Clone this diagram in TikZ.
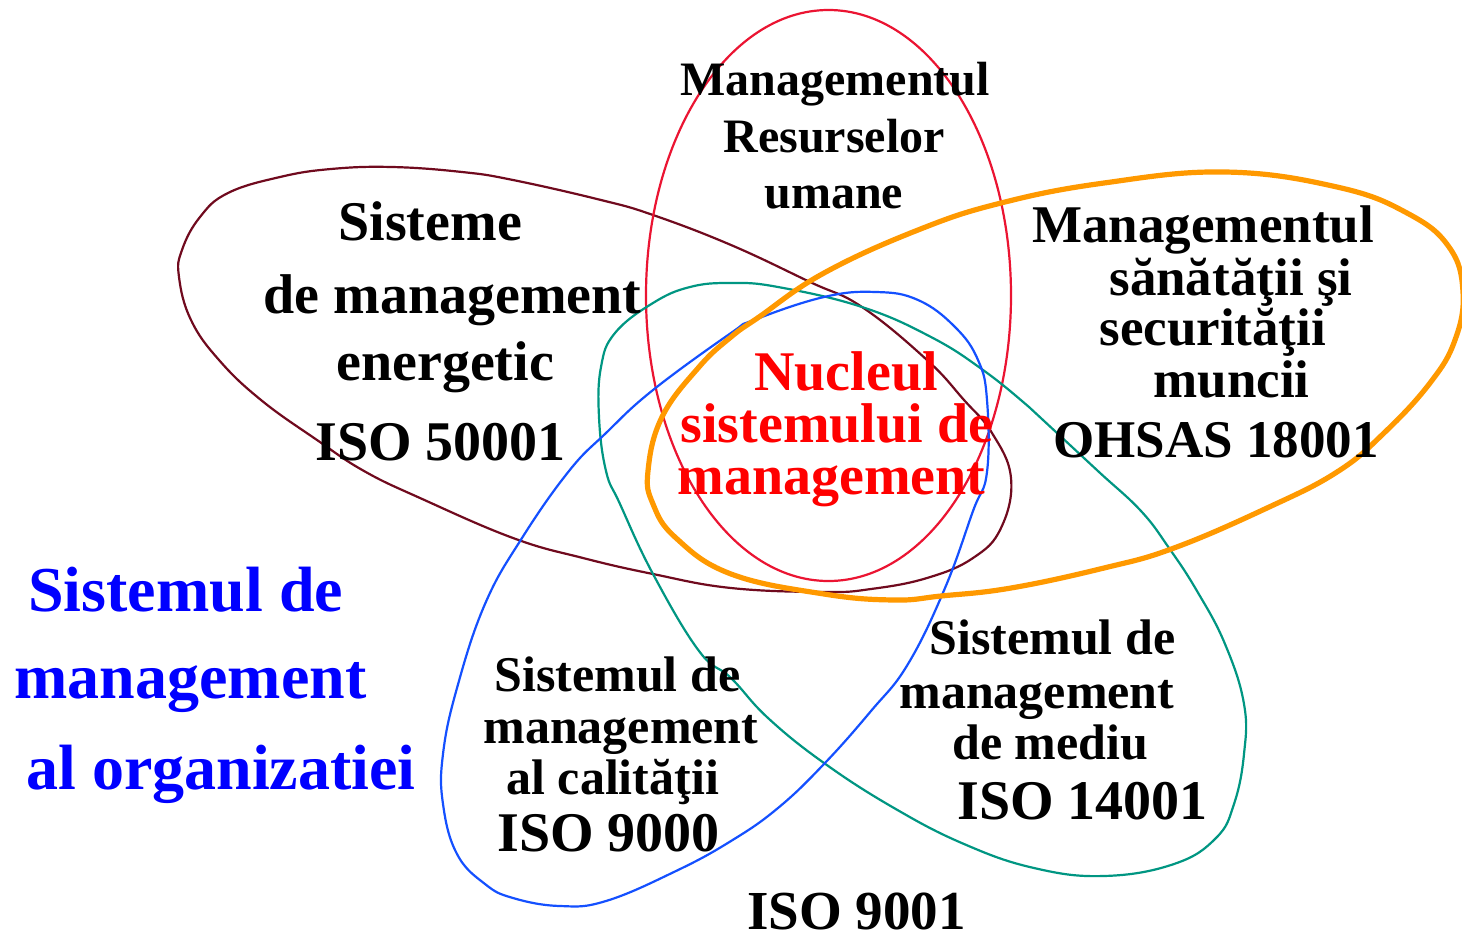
\documentclass[tikz,border=0pt]{standalone}
\usepackage{fontspec}
\setmainfont{Liberation Serif}
\definecolor{maroonc}{RGB}{112,10,30}
\definecolor{redc}{RGB}{235,20,50}
\definecolor{orangec}{RGB}{255,153,0}
\definecolor{bluec}{RGB}{20,80,255}
\definecolor{tealc}{RGB}{0,150,130}
\definecolor{redtxt}{RGB}{255,0,0}
\definecolor{bluetxt}{RGB}{0,0,255}
\tikzset{
  lbl/.style={anchor=base west, inner sep=0pt},
  fs/.style={font=\bfseries\fontsize{#1}{#1}\selectfont},
  ring/.style={line width=1.1pt, line join=round},
}
\begin{document}
\begin{tikzpicture}[x=0.5pt,y=-0.5pt]
\useasboundingbox (0,0) rectangle (1462,943);
\fill[white] (0,0) rectangle (1462,943);

% maroon teardrop (energy)
\draw[ring, maroonc] plot[smooth cycle, tension=0.7] coordinates {
(392,167) (462,172) (513,180) (601,200) (653,215) (731,245) (810,282) (862,307)
(927,360) (964,400) (992,433) (1011,478) (1001,528) (973,558) (927,578)
(871,589) (824,592) (731,588) (653,574) (583,558) (513,538) (420,498) (364,471)
(317,440) (261,400) (219,360) (191,320) (179,277) (182,250) (200,217) (228,193)
(280,177) (331,169)};

% red ellipse (HR)
\draw[ring, redc] (828.5,295.5) ellipse [x radius=91.25pt, y radius=142.75pt];

% teal teardrop (environment)
\draw[ring, tealc] plot[smooth cycle, tension=0.7] coordinates {
(731,283) (778,287) (862,307) (931,337) (983,370) (1029,407) (1057,433) (1099,472)
(1141,511) (1169,548) (1197,591) (1225,644) (1244,704) (1244,754) (1234,804)
(1216,838) (1174,864) (1104,876) (1034,868) (964,844) (894,808) (824,763)
(768,718) (731,678) (699,651) (653,574) (620,504) (606,471) (599,417) (601,367)
(615,333) (653,303) (690,287)};

% blue teardrop (quality)
\draw[ring, bluec] plot[smooth cycle, tension=0.7] coordinates {
(876,292) (918,300) (955,327) (978,360) (987,400) (987,472) (973,511) (945,588)
(908,664) (871,711) (824,764) (778,808) (731,841) (676,871) (606,901) (560,906)
(513,898) (485,884) (457,854) (443,804) (443,754) (457,688) (485,604) (522,538)
(569,471) (606,433) (653,390) (731,333) (754,320) (824,297)};

% orange (OHSAS)
\draw[line width=2.6pt, line join=round, orangec] plot[smooth cycle, tension=0.7] coordinates {
(1225,172) (1337,187) (1407,213) (1449,247) (1463,292) (1455,340) (1430,383)
(1384,433) (1337,472) (1267,508) (1174,548) (1104,568) (1011,588) (941,596)
(894,600) (824,594) (731,574) (676,538) (653,504) (648,471) (662,417) (699,367)
(731,337) (759,317) (824,273) (918,230) (1001,203) (1104,183)};

% HR
\node[lbl, fs=24] (hr1) at (680,95) {Managementul};
\node[lbl, fs=24] (hr2) at (723,152) {Resurselor};
\node[lbl, fs=24] (hr3) at (764,208) {umane};

% OHSAS
\node[lbl, fs=26.5] (oh1) at (1032,242) {Managementul};
\node[lbl, fs=26.5] (oh2) at (1109,295) {sănătăţii şi};
\node[lbl, fs=26.5] (oh3) at (1099,345) {securităţii};
\node[lbl, fs=26.5] (oh4) at (1153,397) {muncii};
\node[lbl, fs=26.5] (oh5) at (1053,457) {OHSAS 18001};

% nucleus
\node[lbl, fs=28, text=redtxt] (nu1) at (754,390) {Nucleul};
\node[lbl, fs=28, text=redtxt] (nu2) at (680,442) {sistemului de};
\node[lbl, fs=28, text=redtxt] (nu3) at (677,494) {management};

% energy
\node[lbl, fs=28] (en1) at (338,240) {Sisteme};
\node[lbl, fs=28] (en2) at (263,313) {de management};
\node[lbl, fs=28] (en3) at (336,380) {energetic};
\node[lbl, fs=28] (en4) at (315,460) {ISO 50001};

% quality
\node[lbl, fs=25] (q1) at (494,691) {Sistemul de};
\node[lbl, fs=25] (q2) at (483,743) {management};
\node[lbl, fs=25] (q3) at (506,794) {al calităţii};
\node[lbl, fs=28] (q4) at (497,851) {ISO 9000};

% environment
\node[lbl, fs=25] (m1) at (929,654) {Sistemul de};
\node[lbl, fs=25] (m2) at (899,708) {management};
\node[lbl, fs=25] (m3) at (952,759) {de mediu};
\node[lbl, fs=28] (m4) at (957,819) {ISO 14001};

% ISO 9001
\node[lbl, fs=27.5] (i9001) at (747,929) {ISO 9001};

% organisation
\node[lbl, fs=32, text=bluetxt] (o1) at (28,611) {Sistemul de};
\node[lbl, fs=32, text=bluetxt] (o2) at (14,698) {management};
\node[lbl, fs=32, text=bluetxt] (o3) at (26,789) {al organizatiei};
\end{tikzpicture}
\end{document}
